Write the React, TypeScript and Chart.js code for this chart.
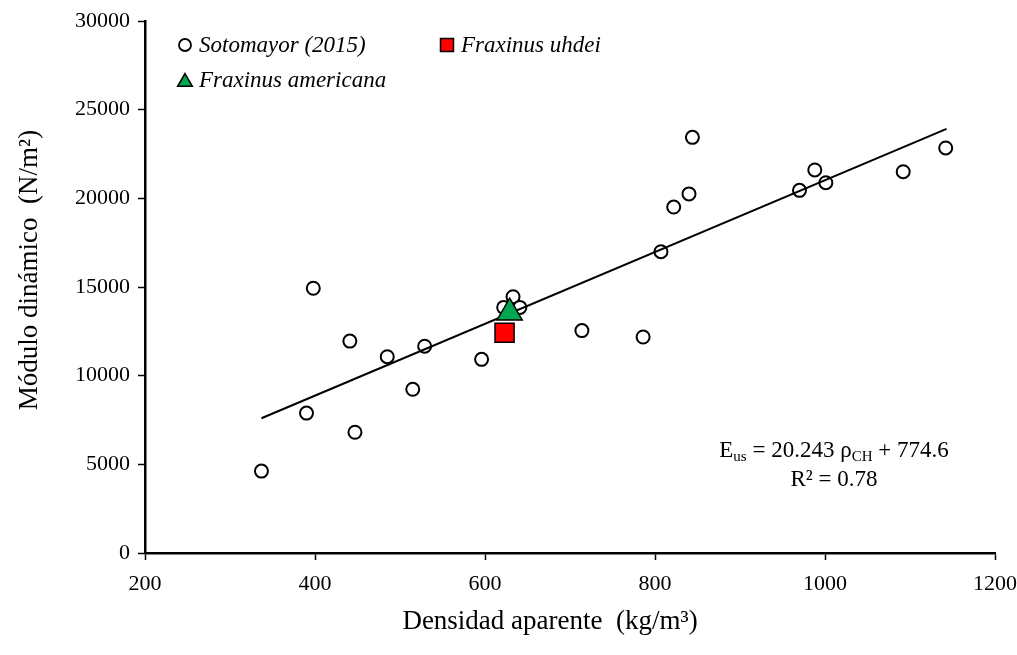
import React, { useEffect, useRef } from "react";
import { Chart, registerables } from "chart.js";

Chart.register(...registerables);

// ---- data ----
const sotoX = [337, 390, 398, 441, 447, 485, 515, 529, 596, 622, 633, 641, 714, 786, 807, 822, 840, 844, 970, 988, 1001, 1092, 1142];
const sotoY = [4620, 7890, 14930, 11950, 6810, 11070, 9230, 11660, 10920, 13850, 14450, 13850, 12540, 12180, 16990, 19510, 20250, 23440, 20450, 21600, 20880, 21500, 22840];
const uhdeiX = [623];
const uhdeiY = [12420];
const americanaX = [629];
const americanaY = [13550];
const trendX = [337, 1143];
const trendY = [7597, 23913];

const xTicksMin = 200;
const xTicksMax = 1200;
const xStep = 200;
const yTicksMin = 0;
const yTicksMax = 30000;
const yStep = 5000;

const legendLabels = ["Sotomayor (2015)", "Fraxinus uhdei", "Fraxinus americana"];
const xTitle = "Densidad aparente  (kg/m\u00B3)";
const yTitle = "M\u00F3dulo din\u00E1mico  (N/m\u00B2)";

const GREEN = "#00A651";
const RED = "#FF0000";
const SERIF = "'Liberation Serif', 'Times New Roman', serif";

function toPoints(xs: number[], ys: number[]) {
  return xs.map((x, i) => ({ x, y: ys[i] }));
}

function drawTriangle(ctx: CanvasRenderingContext2D, x: number, y: number, r: number) {
  ctx.beginPath();
  ctx.moveTo(x, y - r);
  ctx.lineTo(x + r * Math.sin((2 * Math.PI) / 3), y + r / 2);
  ctx.lineTo(x - r * Math.sin((2 * Math.PI) / 3), y + r / 2);
  ctx.closePath();
}

const overlayPlugin = {
  id: "overlay",
  afterDraw(chart: any) {
    const ctx: CanvasRenderingContext2D = chart.ctx;
    ctx.save();
    ctx.fillStyle = "#000";
    // ---- legend ----
    const row1 = 45;
    const row2 = 80;
    ctx.lineWidth = 1.8;
    ctx.strokeStyle = "#000";
    ctx.beginPath();
    ctx.arc(185, row1, 6, 0, Math.PI * 2);
    ctx.fillStyle = "#fff";
    ctx.fill();
    ctx.stroke();
    ctx.lineWidth = 1.5;
    ctx.fillStyle = RED;
    ctx.beginPath();
    ctx.rect(447 - 6.5, row1 - 6.5, 13, 13);
    ctx.fill();
    ctx.stroke();
    ctx.fillStyle = GREEN;
    drawTriangle(ctx, 185, row2 + 2, 8.5);
    ctx.fill();
    ctx.stroke();

    ctx.fillStyle = "#000";
    ctx.font = `italic 23px ${SERIF}`;
    ctx.textBaseline = "middle";
    ctx.textAlign = "left";
    ctx.fillText(legendLabels[0], 199, row1 + 1);
    ctx.fillText(legendLabels[1], 461, row1 + 1);
    ctx.fillText(legendLabels[2], 199, row2 + 1);

    // ---- equation ----
    const big = `23px ${SERIF}`;
    const small = `15px ${SERIF}`;
    const parts: [string, boolean][] = [
      ["E", false],
      ["us", true],
      [" = 20.243 \u03C1", false],
      ["CH", true],
      [" + 774.6", false],
    ];
    let total = 0;
    for (const [t, sub] of parts) {
      ctx.font = sub ? small : big;
      total += ctx.measureText(t).width;
    }
    const cx = 834;
    let px = cx - total / 2;
    ctx.textBaseline = "alphabetic";
    for (const [t, sub] of parts) {
      ctx.font = sub ? small : big;
      ctx.fillText(t, px, sub ? 461 : 457);
      px += ctx.measureText(t).width;
    }
    ctx.font = big;
    ctx.textAlign = "center";
    ctx.fillText("R\u00B2 = 0.78", cx, 486);

    // ---- axis titles ----
    ctx.font = `27px ${SERIF}`;
    ctx.textAlign = "center";
    ctx.textBaseline = "middle";
    ctx.fillText(xTitle, 550, 622);
    ctx.save();
    ctx.translate(30, 270);
    ctx.rotate(-Math.PI / 2);
    ctx.fillText(yTitle, 0, 0);
    ctx.restore();

    ctx.restore();
  },
};

export default function App() {
  const ref = useRef<HTMLCanvasElement | null>(null);
  useEffect(() => {
    if (!ref.current) return;
    const chart = new Chart(ref.current, {
      type: "scatter",
      data: {
        datasets: [
          {
            label: legendLabels[0],
            data: toPoints(sotoX, sotoY),
            pointStyle: "circle",
            pointRadius: 6.5,
            pointBorderWidth: 2,
            pointBackgroundColor: "#fff",
            pointBorderColor: "#000",
            order: 3,
          },
          {
            label: "trend",
            type: "line",
            data: toPoints(trendX, trendY),
            borderColor: "#000",
            borderWidth: 2,
            pointRadius: 0,
            fill: false,
            order: 2,
          } as any,
          {
            label: legendLabels[1],
            data: toPoints(uhdeiX, uhdeiY),
            pointStyle: "rect",
            pointRadius: 13.5,
            pointBorderWidth: 1.5,
            pointBackgroundColor: RED,
            pointBorderColor: "#000",
            order: 1,
          },
          {
            label: legendLabels[2],
            data: toPoints(americanaX, americanaY),
            pointStyle: "triangle",
            pointRadius: 14.5,
            pointBorderWidth: 1.5,
            pointBackgroundColor: GREEN,
            pointBorderColor: "#000",
            order: 0,
          },
        ],
      },
      options: {
        animation: false,
        responsive: true,
        maintainAspectRatio: false,
        events: [],
        layout: { padding: { left: 0, right: 22, top: 21, bottom: 0 } },
        plugins: {
          legend: { display: false },
          tooltip: { enabled: false },
        },
        scales: {
          x: {
            type: "linear",
            min: xTicksMin,
            max: xTicksMax,
            afterFit: (s: any) => {
              s.height = 102;
              s.paddingRight = 0;
              s.paddingLeft = 0;
            },
            ticks: {
              stepSize: xStep,
              color: "#000",
              padding: 11,
              font: { family: SERIF, size: 22 },
              callback: (v: any) => String(v),
            },
            grid: {
              drawOnChartArea: false,
              drawTicks: true,
              tickLength: 7,
              tickColor: "#000",
              tickWidth: 1.5,
            },
            border: { display: true, color: "#000", width: 2.5 },
            title: { display: false },
          },
          y: {
            type: "linear",
            min: yTicksMin,
            max: yTicksMax,
            afterFit: (s: any) => {
              s.width = 145;
              s.paddingTop = 0;
              s.paddingBottom = 0;
            },
            ticks: {
              stepSize: yStep,
              color: "#000",
              padding: 8,
              font: { family: SERIF, size: 22 },
              callback: (v: any) => String(v),
            },
            grid: {
              drawOnChartArea: false,
              drawTicks: true,
              tickLength: 7,
              tickColor: "#000",
              tickWidth: 1.5,
            },
            border: { display: true, color: "#000", width: 2.5 },
            title: { display: false },
          },
        },
      },
      plugins: [overlayPlugin],
    });
    return () => chart.destroy();
  }, []);
  return (
    <div style={{ position: "fixed", left: 0, top: 0, width: 1017, height: 655, background: "#fff" }}>
      <canvas ref={ref} />
    </div>
  );
}
